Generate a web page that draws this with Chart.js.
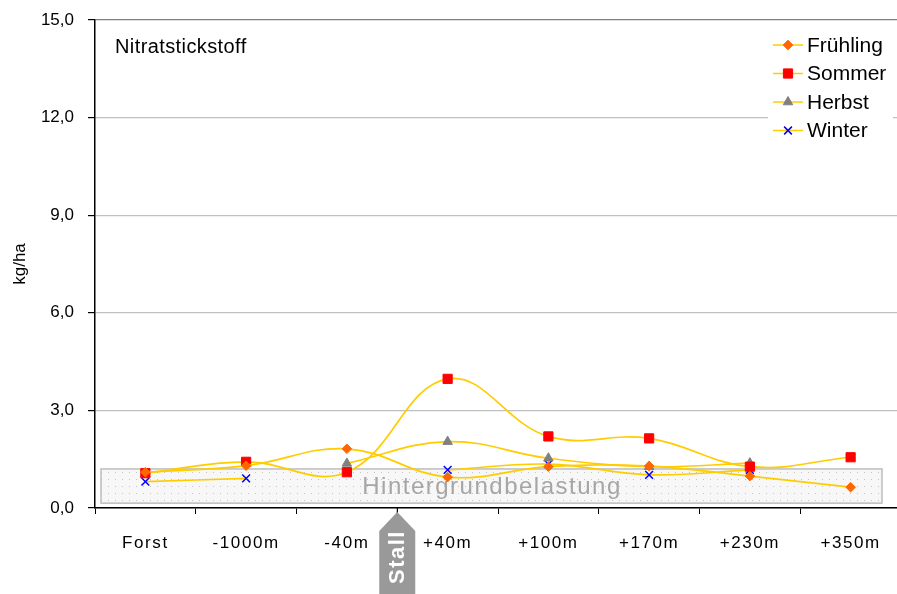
<!DOCTYPE html>
<html>
<head>
<meta charset="utf-8">
<script src="https://cdn.jsdelivr.net/npm/chart.js@4/dist/chart.umd.min.js"></script>
<style>
  html, body { margin: 0; padding: 0; background: #fff; }
  #wrap { width: 897px; height: 594px; }
</style>
</head>
<body>
<div id="wrap"><canvas id="myChart" width="897" height="594"></canvas></div>
<script>
// data
let labels = ['Forst', '-1000m', '-40m', '+40m', '+100m', '+170m', '+230m', '+350m'];
let fruehling = [1.1, 1.3, 1.82, 0.95, 1.27, 1.29, 0.98, 0.64];
let sommer = [1.07, 1.42, 1.1, 3.97, 2.2, 2.14, 1.27, 1.56];
let herbst = [1.05, null, 1.37, 2.04, 1.53, 1.27, 1.38, null];
let winter = [0.81, 0.91, null, 1.17, 1.35, 1.02, 1.17, null];
let yTicks = [0, 3, 6, 9, 12, 15];
let bandRange = [0.15, 1.2];

const FONT = '"Liberation Sans", Arial, sans-serif';
const LINE = '#FFCC00';

function dotPattern(ctx) {
    let c = document.createElement('canvas');
    c.width = 7; c.height = 7;
    let g = c.getContext('2d');
    g.fillStyle = '#f7f7f7';
    g.fillRect(0, 0, 7, 7);
    g.fillStyle = '#c4c4c4';
    g.fillRect(3, 3, 1, 1);
    return ctx.createPattern(c, 'repeat');
}

let bandPlugin = {
    id: 'band',
    afterLayout(chart) {
        // the plot runs a few px past the right edge of the picture
        let s = chart.scales.x;
        s.right = 901;
        s.width = s.right - s.left;
        s.configure();
        chart.chartArea.right = 901;
        chart.chartArea.width = 901 - chart.chartArea.left;
    },
    beforeDraw(chart) {
        // wider spacing for the category labels
        let s = chart.scales.x;
        if (s && !s._ls) {
            s._ls = true;
            let orig = s.drawLabels;
            s.drawLabels = function (area) {
                chart.ctx.save();
                chart.ctx.letterSpacing = '1.6px';
                orig.call(this, area);
                chart.ctx.restore();
            };
        }
    },
    beforeDatasetsDraw(chart) {
        let ctx = chart.ctx;
        let a = chart.chartArea;
        let y = chart.scales.y;
        let top = y.getPixelForValue(bandRange[1]);
        let bot = y.getPixelForValue(bandRange[0]);
        let left = a.left + 6, right = a.right - 19;
        ctx.save();
        ctx.fillStyle = dotPattern(ctx);
        ctx.fillRect(left, top, right - left, bot - top);
        ctx.strokeStyle = '#bdbdbd';
        ctx.lineWidth = 1.5;
        ctx.strokeRect(left, top, right - left, bot - top);
        ctx.fillStyle = '#a6a6a6';
        ctx.font = '24px ' + FONT;
        ctx.letterSpacing = '1.5px';
        ctx.textAlign = 'center';
        ctx.textBaseline = 'middle';
        ctx.fillText('Hintergrundbelastung', 492, (top + bot) / 2 + 1);
        ctx.restore();
    }
};

let extrasPlugin = {
    id: 'extras',
    afterDraw(chart) {
        let ctx = chart.ctx;
        let a = chart.chartArea;
        ctx.save();
        // title in plot
        ctx.fillStyle = '#000';
        ctx.font = '20px ' + FONT;
        ctx.letterSpacing = '0.4px';
        ctx.textBaseline = 'middle';
        ctx.fillText('Nitratstickstoff', 115, 47);
        ctx.restore();

        // Stall arrow between -40m and +40m
        ctx.save();
        let x = chart.scales.x;
        let cx = (x.getPixelForValue(2) + x.getPixelForValue(3)) / 2;
        ctx.strokeStyle = '#000';
        ctx.lineWidth = 1;
        ctx.beginPath();
        ctx.moveTo(cx, a.bottom);
        ctx.lineTo(cx, a.bottom + 6);
        ctx.stroke();
        ctx.fillStyle = '#999999';
        ctx.beginPath();
        ctx.moveTo(cx, a.bottom + 4);
        ctx.lineTo(cx + 18, a.bottom + 23);
        ctx.lineTo(cx + 18, 594);
        ctx.lineTo(cx - 18, 594);
        ctx.lineTo(cx - 18, a.bottom + 23);
        ctx.closePath();
        ctx.fill();
        ctx.translate(cx, 558);
        ctx.rotate(-Math.PI / 2);
        ctx.fillStyle = '#fff';
        ctx.font = 'bold 22px ' + FONT;
        ctx.letterSpacing = '1.5px';
        ctx.textAlign = 'center';
        ctx.textBaseline = 'middle';
        ctx.fillText('Stall', 1, 1);
        ctx.restore();

        // legend
        ctx.save();
        ctx.fillStyle = '#fff';
        ctx.fillRect(768, 30, 125, 114);
        chart.data.datasets.forEach(function (ds, i) {
            let ly = 45 + i * 28.5;
            ctx.strokeStyle = LINE;
            ctx.lineWidth = 1.5;
            ctx.beginPath();
            ctx.moveTo(773, ly);
            ctx.lineTo(803, ly);
            ctx.stroke();
            ctx.save();
            ctx.fillStyle = ds.pointBackgroundColor;
            ctx.strokeStyle = ds.pointBorderColor;
            ctx.lineWidth = ds.pointBorderWidth;
            Chart.helpers.drawPoint(ctx, {
                pointStyle: ds.pointStyle,
                radius: ds.pointRadius,
                borderWidth: ds.pointBorderWidth
            }, 788, ly);
            ctx.restore();
            ctx.fillStyle = '#000';
            ctx.font = '21px ' + FONT;
            ctx.textBaseline = 'middle';
            ctx.fillText(ds.label, 807, ly + 1);
        });
        ctx.restore();
    }
};

function series(label, values, style, radius, color, bw) {
    return {
        label: label,
        data: values,
        borderColor: LINE,
        borderWidth: 1.7,
        tension: 0.4,
        fill: false,
        spanGaps: false,
        pointStyle: style,
        pointRadius: radius,
        pointHoverRadius: radius,
        pointBackgroundColor: color,
        pointBorderColor: color,
        pointBorderWidth: bw
    };
}

new Chart('myChart', {
    type: 'line',
    data: {
        labels: labels,
        datasets: [
            series('Frühling', fruehling, 'rectRot', 4.8, '#FF6600', 1),
            series('Sommer', sommer, 'rect', 6.5, '#FF0000', 1),
            series('Herbst', herbst, 'triangle', 5.5, '#808080', 1),
            series('Winter', winter, 'crossRot', 5.5, '#0000FF', 1.5)
        ]
    },
    options: {
        responsive: false,
        animation: false,
        layout: { autoPadding: false, padding: { top: 20, right: 0, left: 0, bottom: 0 } },
        plugins: {
            legend: { display: false },
            tooltip: { enabled: false }
        },
        scales: {
            x: {
                offset: true,
                grid: {
                    offset: true,
                    drawOnChartArea: false,
                    drawTicks: true,
                    tickLength: 6,
                    tickColor: '#000'
                },
                border: { color: '#000', width: 1.5 },
                ticks: {
                    color: '#000',
                    font: { family: FONT, size: 17 },
                    padding: 19,
                    maxRotation: 0
                },
                afterFit(s) {
                    s.height = 86;
                    s.paddingLeft = 0;
                    s.paddingRight = 0;
                }
            },
            y: {
                min: 0,
                max: 15,
                afterBuildTicks(s) { s.ticks = yTicks.map(v => ({ value: v })); },
                grid: {
                    color: ctx => ctx.tick && ctx.tick.value === 15 ? '#808080' : '#c0c0c0',
                    lineWidth: 1.2,
                    tickLength: 7,
                    tickColor: '#000'
                },
                border: { color: '#000', width: 1.5 },
                ticks: {
                    color: '#000',
                    font: { family: FONT, size: 17 },
                    padding: 14,
                    callback: v => v.toFixed(1).replace('.', ',')
                },
                title: {
                    display: true,
                    text: 'kg/ha',
                    color: '#000',
                    font: { family: FONT, size: 17 },
                    padding: { top: 10, bottom: 0 }
                },
                afterFit(s) {
                    s.width = 95;
                    s.paddingTop = 0;
                    s.paddingBottom = 0;
                }
            }
        }
    },
    plugins: [bandPlugin, extrasPlugin]
});
</script>
</body>
</html>
